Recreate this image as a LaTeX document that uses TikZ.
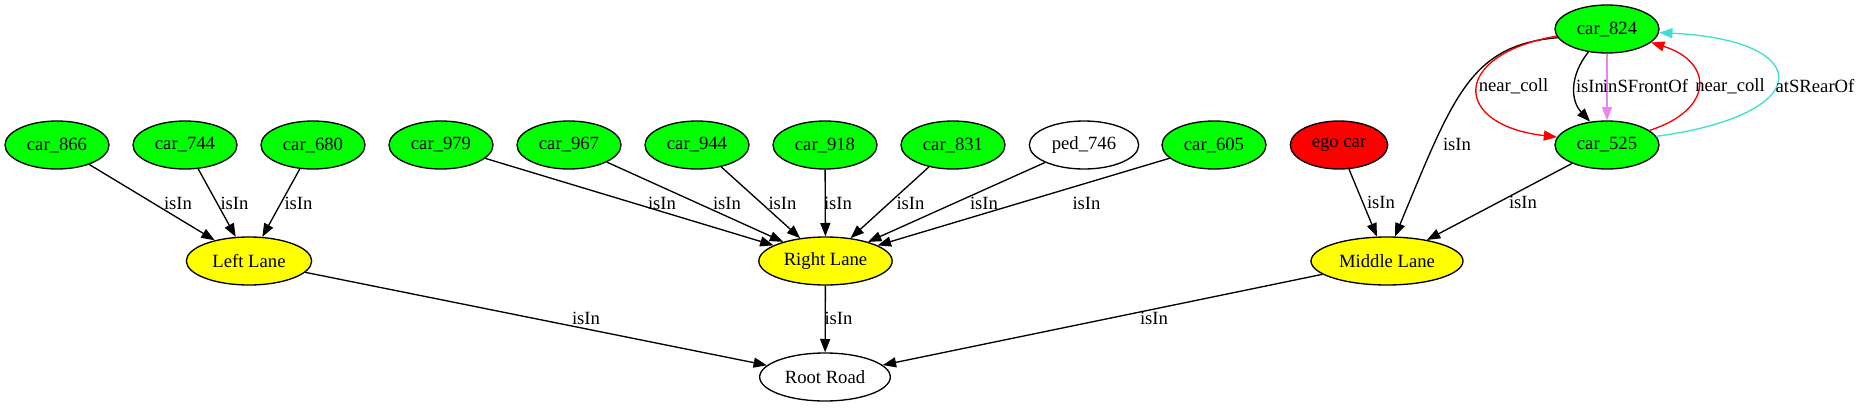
\documentclass[tikz,border=0pt]{standalone}
\usepackage{fontspec}
\setmainfont{Liberation Serif}
\usetikzlibrary{arrows.meta,shapes.geometric}
\definecolor{gvgreen}{HTML}{00FF00}
\definecolor{gvyellow}{HTML}{FFFF00}
\definecolor{gvred}{HTML}{FF0000}
\definecolor{gvturq}{HTML}{40E0D0}
\definecolor{gvviolet}{HTML}{EE82EE}
\tikzset{
  nd/.style={ellipse, draw=black, line width=1pt, inner sep=0pt,
    minimum height=36pt, minimum width=78pt, font=\fontsize{14pt}{16pt}\selectfont},
  carnode/.style={nd, fill=gvgreen},
  lanenode/.style={nd, fill=gvyellow},
  egonode/.style={nd, fill=gvred},
  plainnode/.style={nd, fill=white},
  edge/.style={line width=1pt, -{Triangle[length=10pt,width=7.5pt]}},
  lbl/.style={inner sep=0pt, font=\fontsize{14pt}{16pt}\selectfont}
}
\begin{document}
\begin{tikzpicture}[x=0.75pt,y=-0.75pt]
\useasboundingbox (0,0) rectangle (1860,407);
\fill[white] (0,0) rectangle (1860,407);
% top row
\node[carnode] (c866) at (57,145) {car\_866};
\node[carnode] (c744) at (185,145) {car\_744};
\node[carnode] (c680) at (313,145) {car\_680};
\node[carnode] (c979) at (441,145) {car\_979};
\node[carnode] (c967) at (569,145) {car\_967};
\node[carnode] (c944) at (697,145) {car\_944};
\node[carnode] (c918) at (825,145) {car\_918};
\node[carnode] (c831) at (953,145) {car\_831};
\node[plainnode, minimum width=82pt] (p746) at (1084,145) {ped\_746};
\node[carnode] (c605) at (1214,145) {car\_605};
\node[egonode, minimum width=73pt] (ego) at (1339,145) {ego car};
\node[carnode] (c525) at (1607,145) {car\_525};
\node[carnode] (c824) at (1607,29) {car\_824};
% lanes
\node[lanenode, minimum width=94pt] (left) at (249,261) {Left Lane};
\node[lanenode, minimum width=100pt] (right) at (825.5,261) {Right Lane};
\node[lanenode, minimum width=114pt] (middle) at (1387,261) {Middle Lane};
\node[plainnode, minimum width=98pt] (root) at (825,377) {Root Road};
% edges to Left Lane
\draw[edge] (c866) -- (left);
\draw[edge] (c744) -- (left);
\draw[edge] (c680) -- (left);
\node[lbl] (l1) at (178,203) {isIn};
\node[lbl] (l2) at (234.5,203) {isIn};
\node[lbl] (l3) at (298.5,203) {isIn};
% edges to Right Lane
\draw[edge] (c979) -- (right);
\draw[edge] (c967) -- (right);
\draw[edge] (c944) -- (right);
\draw[edge] (c918) -- (right);
\draw[edge] (c831) -- (right);
\draw[edge] (p746) -- (right);
\draw[edge] (c605) -- (right);
\node[lbl] (l4) at (662,203) {isIn};
\node[lbl] (l5) at (727,203) {isIn};
\node[lbl] (l6) at (782.5,203) {isIn};
\node[lbl] (l7) at (838,203) {isIn};
\node[lbl] (l8) at (910.5,203) {isIn};
\node[lbl] (l9) at (984,203) {isIn};
\node[lbl] (l10) at (1086.5,203) {isIn};
% lanes to root
\draw[edge] (left) -- (root);
\draw[edge] (right) -- (root);
\draw[edge] (middle) -- (root);
\node[lbl] (l11) at (586,318) {isIn};
\node[lbl] (l12) at (838.5,318) {isIn};
\node[lbl] (l13) at (1154,318) {isIn};
% middle lane edges
\draw[edge] (ego) -- (middle);
\draw[edge] (c525) -- (middle);
\draw[edge] (c824.190) .. controls (1470,45) and (1453,97) .. (middle.72);
\node[lbl] (l14) at (1381,202) {isIn};
\node[lbl] (l15) at (1523,202) {isIn};
\node[lbl] (l16) at (1457,144) {isIn};
% car_824 / car_525 relations
\draw[edge, gvred] (c824.188) .. controls (1450,55) and (1452,125) .. (c525.171);
\draw[edge] (c824.231) .. controls (1570,75) and (1570,100) .. (c525.126);
\draw[edge, gvviolet] (c824) -- (c525);
\draw[edge, gvred] (c525.19) .. controls (1714,110) and (1714,62) .. (c824.343);
\draw[edge, gvturq] (c525.10) .. controls (1817,115) and (1817,40) .. (c824.356);
\node[lbl] (l17) at (1513.5,86) {near\_coll};
\node[lbl] (l18) at (1590,86) {isIn};
\node[lbl] (l19) at (1645.5,86) {inSFrontOf};
\node[lbl] (l20) at (1730,86) {near\_coll};
\node[lbl] (l21) at (1815,86) {atSRearOf};
\end{tikzpicture}
\end{document}
